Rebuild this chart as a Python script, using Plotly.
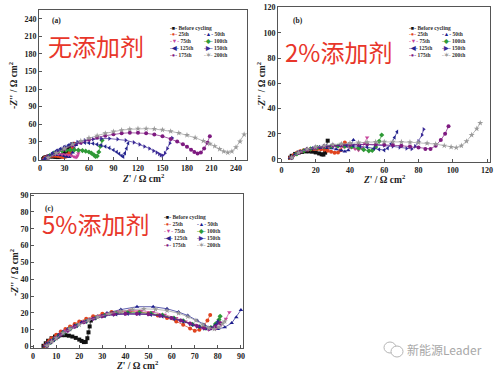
import plotly.graph_objects as go

# ---------------- series names / styles ----------------
names = ["Before cycling", "25th", "50th", "75th", "100th", "125th", "150th", "175th", "200th"]
colors = ["#111111", "#e0441f", "#1c1c8c", "#c8449c", "#2e9a36", "#24248e", "#3b2a96", "#7e1a80", "#9a9a9a"]
symbols = ["square", "circle", "triangle-up", "triangle-down", "diamond", "triangle-left", "triangle-right", "circle", "star"]
glyphs = ["■", "●", "▲", "▼", "◆", "◀", "▶", "●", "✶"]

# ---------------- panel (a): no additive ----------------
a_before_x = [4, 5, 6, 8, 10, 12, 14, 16, 18, 20, 22, 24, 26, 28, 30, 32, 34, 36, 38, 40]
a_before_y = [0, 1.5, 2.5, 3.5, 4.2, 4.5, 4.6, 4.4, 4, 3.6, 3.3, 3.5, 5, 7, 10, 13, 16, 19, 22, 25]
a_25_x = [5, 6, 8, 10, 13, 16, 19, 22, 25, 28, 30, 32, 34, 36, 38, 40, 42]
a_25_y = [0, 2, 3.5, 4.5, 5.2, 5.5, 5.4, 5, 4.4, 3.6, 3.5, 4.5, 7, 10, 14, 19, 26]
a_50_x = [5, 7, 10, 14, 18, 22, 26, 30, 33, 36, 38, 40, 42, 44]
a_50_y = [0, 3, 5, 6.5, 7, 7, 6.5, 5, 4, 3.5, 6, 11, 17, 24]
a_75_x = [6, 8, 11, 15, 19, 23, 27, 31, 35, 38, 41, 43, 45, 46, 47, 48]
a_75_y = [0, 3, 5.5, 7, 8, 8.5, 8.3, 7.8, 7, 6, 4.5, 3, 3, 6, 10, 15]
a_100_x = [8, 12, 17, 22, 27, 32, 37, 42, 47, 52, 56, 60, 63, 66, 68, 70, 72, 74, 76]
a_100_y = [1, 6, 10, 12.5, 14, 15, 15.5, 15.5, 15.2, 14.5, 13.5, 12, 10, 7, 4.5, 5, 12, 22, 32]
a_125_x = [6, 10, 15, 20, 25, 30, 35, 40, 45, 50, 55, 60, 65, 70, 75, 80, 85, 90, 94, 97, 100, 102, 104, 106, 108]
a_125_y = [0, 5, 10, 14, 17.5, 21, 24, 26, 27.5, 28, 28, 27.5, 26.5, 25, 23.5, 21.5, 19, 15.5, 12, 9, 5.5, 4, 10, 18, 27]
a_150_x = [8, 15, 22, 30, 38, 46, 55, 65, 75, 85, 95, 105, 115, 122, 128, 134, 139, 143, 146, 148, 150, 153, 156, 159, 162]
a_150_y = [1, 8, 14, 20, 25, 29, 32, 34, 35, 35, 34, 32, 28.5, 25, 21.5, 18, 14, 11, 8.5, 6.5, 6, 10, 18, 27, 36]
a_175_x = [10, 20, 30, 40, 50, 60, 70, 80, 90, 100, 110, 120, 130, 140, 150, 160, 168, 175, 180, 185, 189, 193, 197, 201, 205, 208]
a_175_y = [2, 10, 17, 23, 28, 33, 37, 40, 42.5, 44, 45, 45, 44, 42, 39, 34.5, 30, 25.5, 21, 16, 12, 9.5, 11, 18, 28, 39]
a_200_x = [10, 20, 30, 40, 50, 60, 70, 80, 90, 100, 110, 120, 130, 140, 150, 160, 170, 180, 190, 200, 208, 214, 220, 225, 230, 235, 240, 245, 250]
a_200_y = [2, 10, 18, 25, 31, 36, 40, 44, 47, 49.5, 51, 52, 52, 51.5, 50, 47.5, 44.5, 41, 36.5, 31, 26, 22, 17, 13, 11, 13, 20, 30, 42]

# ---------------- panel (b): 2% additive ----------------
b_before_x = [5, 6, 8, 10, 12, 14, 16, 18, 20, 22, 23.5, 24.5, 25.5, 26.3, 27]
b_before_y = [1, 2.5, 4, 5, 5.6, 6, 6, 5.8, 5.2, 4.4, 3.7, 3.5, 5, 9, 14.5]
b_25_x = [5, 7, 9, 11, 13, 15, 17, 19, 21, 23, 25, 27, 29, 31, 33, 34.5, 36, 37]
b_25_y = [1, 3, 5, 6.2, 7, 7.5, 7.8, 8, 8, 7.8, 7.3, 6.5, 5.8, 5, 5.2, 7, 10, 13]
b_50_x = [5, 8, 11, 14, 17, 20, 23, 26, 29, 32, 35, 37, 39, 40.5, 42]
b_50_y = [1, 4, 6, 7.3, 8, 8.5, 8.8, 8.8, 8.5, 7.8, 6.8, 6, 7, 10.5, 15]
b_75_x = [6, 9, 12, 16, 20, 24, 28, 32, 36, 40, 43, 45, 47, 48.5, 50]
b_75_y = [1, 4, 6, 7.5, 8.5, 9.2, 9.6, 9.8, 9.6, 9, 8, 7, 8.5, 12.5, 17]
b_100_x = [6, 9, 13, 17, 21, 25, 29, 33, 37, 41, 45, 48, 51, 53, 55, 57, 58.5]
b_100_y = [1, 4, 6.5, 8, 9, 9.5, 10, 10.2, 10, 9.6, 8.6, 7.4, 6.5, 6.8, 9.5, 14, 19]
b_125_x = [6, 10, 14, 18, 22, 26, 30, 34, 38, 42, 46, 50, 54, 57, 60, 62, 64, 66, 67.5]
b_125_y = [1, 5, 7.3, 8.6, 9.4, 10, 10.4, 10.6, 10.6, 10.4, 10, 9.3, 8.3, 7.5, 7, 8.5, 12, 17, 21.5]
b_150_x = [6, 10, 15, 20, 25, 30, 35, 40, 45, 50, 55, 60, 65, 69, 73, 76, 78, 80, 82, 83]
b_150_y = [1, 5, 7.8, 9.2, 10.2, 10.8, 11.2, 11.5, 11.6, 11.5, 11.2, 10.8, 10, 9.2, 8.3, 8, 10, 14, 19, 23.5]
b_175_x = [6, 10, 15, 20, 25, 30, 35, 40, 45, 50, 55, 60, 65, 70, 75, 80, 84, 87, 90, 93, 95.5, 97.5]
b_175_y = [1, 5, 7.6, 9, 10, 10.6, 11, 11.3, 11.5, 11.6, 11.5, 11.3, 11, 10.5, 9.8, 9, 8, 8, 10.5, 15, 20, 26]
b_200_x = [6, 10, 15, 20, 25, 30, 35, 40, 45, 50, 55, 60, 65, 70, 75, 80, 85, 90, 95, 99, 102, 105, 108, 111, 114, 116]
b_200_y = [1, 5, 7.8, 9.5, 10.6, 11.4, 12, 12.6, 13, 13.3, 13.5, 13.6, 13.6, 13.5, 13.3, 13, 12.5, 11.8, 10.6, 9.5, 9, 10.5, 14, 19, 24, 28.5]

# ---------------- panel (c): 5% additive ----------------
c_before_x = [4.5, 5.5, 6.5, 8, 9.5, 11, 12.5, 14, 15.5, 17, 18.5, 20, 21, 22, 22.8, 23.5, 24, 24.5, 25]
c_before_y = [0.5, 2, 3.5, 5, 6, 6.6, 6.8, 6.8, 6.5, 6, 5.2, 4.2, 3.4, 2.7, 2.8, 5, 8.5, 12, 15.5]
c_25_x = [5, 6, 7, 8, 10, 12, 14, 16, 18, 20, 23, 26, 30, 34, 38, 42, 46, 50, 54, 58, 62, 65, 68, 70, 72, 74, 75.5, 76.7]
c_25_y = [0.5, 2, 3.5, 5, 7, 9, 10.5, 12, 13.5, 15, 16.5, 18, 19.5, 20.5, 21, 21, 20.5, 19.8, 18.5, 17, 15, 13, 10.8, 9.5, 10, 12.5, 15.5, 18.8]
c_50_x = [5, 6, 7.5, 9, 11, 13, 15, 18, 21, 24, 28, 32, 38, 45, 52, 58, 63, 67, 71, 74, 77, 80, 83, 86, 88, 90]
c_50_y = [0.5, 2, 3.5, 5, 7, 9, 10.5, 12.5, 14.5, 16, 18, 20, 22, 23.7, 23.7, 22.5, 20.5, 18.5, 15.5, 13, 11, 10.5, 11.5, 14, 17.5, 21.7]
c_75_x = [5.5, 7, 8.5, 10, 12, 14, 17, 20, 24, 28, 32, 37, 42, 47, 52, 57, 62, 66, 70, 73, 76, 79, 81.5, 83.5, 85]
c_75_y = [0.5, 2.5, 4, 5.5, 7.5, 9.5, 11.5, 13.5, 16, 18, 19.5, 20.8, 21.5, 21.3, 20.5, 19, 17, 15, 13, 11.2, 10, 10.5, 13, 16.5, 20.4]
c_100_x = [6, 7.5, 9, 11, 13, 16, 19, 23, 27, 31, 36, 41, 46, 51, 56, 61, 65, 69, 72, 74.5, 77, 79, 80.5, 81]
c_100_y = [0.5, 2.5, 4, 6, 8, 10.5, 12.5, 15, 17, 18.5, 19.7, 20.2, 20.2, 19.7, 18.7, 17, 15.3, 13.2, 11.8, 11, 11.3, 13.5, 16, 18]
c_125_x = [6, 7.5, 9, 11, 13, 16, 19, 23, 27, 31, 36, 41, 46, 51, 56, 61, 65, 69, 72, 75, 77, 79, 80]
c_125_y = [0.5, 2.5, 4, 6, 8, 10.5, 12.5, 15, 17, 18.2, 19.2, 19.5, 19.4, 19, 18, 16.5, 15, 13, 11.8, 10.8, 11, 13, 15]
c_150_x = [6, 8, 10, 12, 15, 18, 22, 26, 30, 35, 40, 45, 50, 55, 60, 64, 68, 71, 74, 76.5, 78.5, 80]
c_150_y = [0.5, 3, 5, 7, 9.5, 11.8, 14.5, 16.5, 18, 19, 19.5, 19.5, 19.2, 18.5, 17, 15.5, 13.5, 12, 10.8, 10.5, 11.5, 14]
c_175_x = [6, 8, 10, 12, 15, 18, 22, 26, 30, 35, 40, 45, 50, 55, 60, 64, 68, 71, 74, 76.5, 79, 81]
c_175_y = [0.5, 3, 5, 7, 9.5, 11.8, 14.5, 16.5, 18, 19.2, 19.6, 19.6, 19.2, 18.4, 17, 15.5, 13.7, 12.2, 11, 10.8, 12, 14]
c_200_x = [6, 8, 10, 13, 16, 20, 24, 28, 33, 38, 43, 48, 53, 58, 63, 67, 70.5, 73.5, 76, 78.5, 80.5, 82, 83]
c_200_y = [0.5, 3, 5, 8, 10.5, 13, 15.5, 17.5, 19.5, 21, 22, 22.4, 22.2, 21.4, 19.8, 17.8, 15.5, 13, 11, 10.5, 11.5, 13.5, 15]

panel_a = [(a_before_x, a_before_y), (a_25_x, a_25_y), (a_50_x, a_50_y), (a_75_x, a_75_y), (a_100_x, a_100_y),
           (a_125_x, a_125_y), (a_150_x, a_150_y), (a_175_x, a_175_y), (a_200_x, a_200_y)]
panel_b = [(b_before_x, b_before_y), (b_25_x, b_25_y), (b_50_x, b_50_y), (b_75_x, b_75_y), (b_100_x, b_100_y),
           (b_125_x, b_125_y), (b_150_x, b_150_y), (b_175_x, b_175_y), (b_200_x, b_200_y)]
panel_c = [(c_before_x, c_before_y), (c_25_x, c_25_y), (c_50_x, c_50_y), (c_75_x, c_75_y), (c_100_x, c_100_y),
           (c_125_x, c_125_y), (c_150_x, c_150_y), (c_175_x, c_175_y), (c_200_x, c_200_y)]

W, H = 500, 371
def px(x):
    return x / W
def py(y):
    return 1 - y / H

fig = go.Figure()
for axn, panel in (("", panel_a), ("2", panel_b), ("3", panel_c)):
    for i, (xs, ys) in enumerate(panel):
        fig.add_trace(go.Scatter(
            x=xs, y=ys, mode="lines+markers", name=names[i], showlegend=False,
            xaxis="x" + axn, yaxis="y" + axn,
            line=dict(color=colors[i], width=0.7),
            marker=dict(symbol=symbols[i], color=colors[i], size=4 if symbols[i] != "star" else 4.5,
                        line=dict(width=0))))

tickfont = dict(family="Liberation Serif", size=8, color="#222222", weight="bold")
titlefont = dict(family="Liberation Serif", size=9.5, color="#222222", weight="bold")
def ax(dom, rng, dt, anchor):
    return dict(domain=dom, range=rng, dtick=dt, tick0=0, anchor=anchor, showgrid=False, zeroline=False,
                showline=True, mirror=True, linecolor="#555555", linewidth=1, automargin=False,
                ticks="inside", ticklen=3, tickcolor="#555555", tickfont=tickfont)

fig.update_layout(
    width=W, height=H, margin=dict(l=0, r=0, t=0, b=0),
    paper_bgcolor="white", plot_bgcolor="white", showlegend=False,
    xaxis=ax([px(39), px(247)], [-1.2, 253.5], 30, "y"),
    yaxis=ax([py(160), py(10)], [-1.7, 255.4], 30, "x"),
    xaxis2=ax([px(278), px(490)], [-2, 121.7], 20, "y2"),
    yaxis2=ax([py(162), py(7)], [-2.4, 120.5], 20, "x2"),
    xaxis3=ax([px(31), px(243)], [-0.9, 90.9], 10, "y3"),
    yaxis3=ax([py(348), py(194)], [-0.8, 90.6], 10, "x3"),
)

ann = []
# axis titles
xtitle = "<i>Z</i>' / Ω cm<sup>2</sup>"
ytitle = "-<i>Z</i>'' / Ω cm<sup>2</sup>"
for x, y in ((143, 177.5), (384, 179.5), (137, 365)):
    ann.append(dict(text=xtitle, x=px(x), y=py(y), xref="paper", yref="paper", xanchor="center",
                    yanchor="middle", showarrow=False, font=titlefont))
for x, y in ((13, 85), (261, 85), (14, 272)):
    ann.append(dict(text=ytitle, x=px(x), y=py(y), xref="paper", yref="paper", xanchor="center",
                    yanchor="middle", textangle=-90, showarrow=False, font=titlefont))
# panel letters
for txt, x, y in (("(a)", 50, 21), ("(b)", 291, 21), ("(c)", 43, 208)):
    ann.append(dict(text=txt, x=px(x), y=py(y), xref="paper", yref="paper", xanchor="left", yanchor="middle",
                    showarrow=False, font=dict(family="Liberation Serif", size=7.5, color="#222", weight="bold")))
# red Chinese labels
for txt, x, y in (("无添加剂", 96, 45), ("2%添加剂", 338, 51), ("5%添加剂", 95, 223)):
    ann.append(dict(text=txt, x=px(x), y=py(y), xref="paper", yref="paper", xanchor="center", yanchor="middle",
                    showarrow=False, font=dict(family="Noto Sans CJK SC", size=24, color="#e8362a")))

# legends (two columns, first row single)
legfont = dict(family="Liberation Serif", size=5.5, color="#333333", weight="bold")
def add_legend(x_left, x_right, y0, dy):
    def entry(i, x, y):
        ann.append(dict(text="<span style='color:%s'>-%s-</span> %s" % (colors[i], glyphs[i], names[i]),
                        x=px(x), y=py(y), xref="paper", yref="paper", xanchor="left", yanchor="middle",
                        showarrow=False, font=legfont))
    entry(0, x_left, y0)
    for r in range(4):
        entry(1 + 2 * r, x_left, y0 + dy * (r + 1))
        entry(2 + 2 * r, x_right, y0 + dy * (r + 1))
add_legend(168, 202, 27.5, 6.8)
add_legend(407, 440, 27.5, 6.9)
add_legend(162, 195, 217, 7.1)

# watermark
ann.append(dict(text="新能源Leader", x=px(405), y=py(349), xref="paper", yref="paper", xanchor="left",
                yanchor="middle", showarrow=False,
                font=dict(family="Noto Sans CJK SC", size=12, color="#a8a8a8")))
fig.update_layout(annotations=ann)
fig.add_shape(type="circle", xref="paper", yref="paper", x0=px(384), x1=px(396), y0=py(353), y1=py(342),
              line=dict(color="#b5b5b5", width=1))
fig.add_shape(type="circle", xref="paper", yref="paper", x0=px(391), x1=px(403), y0=py(357), y1=py(346),
              line=dict(color="#b5b5b5", width=1), fillcolor="white")

fig.write_html("out.html", config={"displayModeBar": False},
               post_script="document.body.style.margin='0';document.body.style.padding='0';")
